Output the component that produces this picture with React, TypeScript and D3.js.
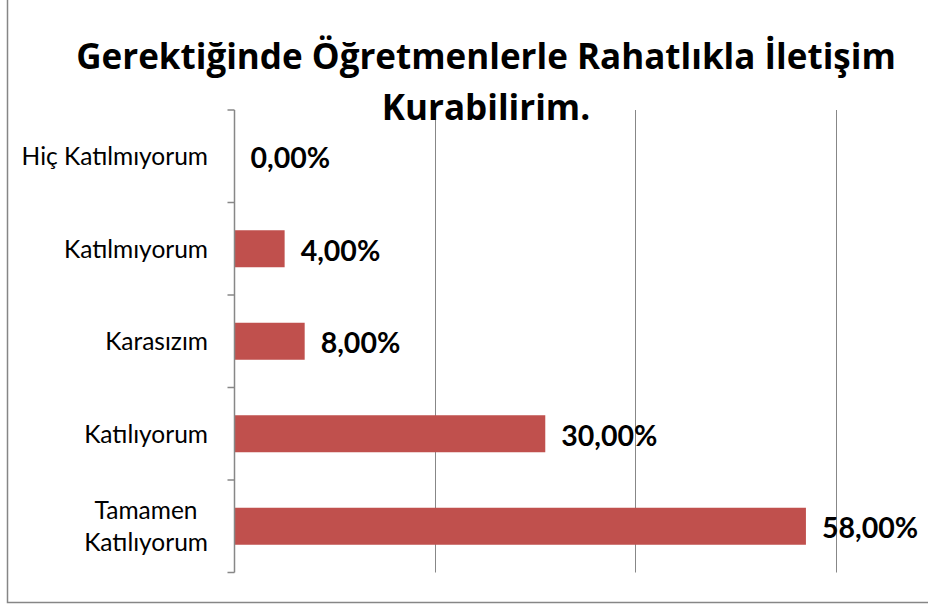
import React from "react";
import * as d3 from "d3";

const titleLines = ["Gerektiğinde Öğretmenlerle Rahatlıkla İletişim", "Kurabilirim."];
const categories = ["Hiç Katılmıyorum", "Katılmıyorum", "Karasızım", "Katılıyorum", "Tamamen Katılıyorum"];
const categoryLines = [["Hiç Katılmıyorum"], ["Katılmıyorum"], ["Karasızım"], ["Katılıyorum"], ["Tamamen", "Katılıyorum"]];
const barValues = [0, 5, 7, 31, 57];
const valueLabels = ["0,00%", "4,00%", "8,00%", "30,00%", "58,00%"];
const gridTicks = [0, 20, 40, 60];

const W = 928;
const H = 604;
const FONT = "Lato, 'Open Sans', sans-serif";
const TITLE_FONT = "'Open Sans', Lato, sans-serif";
const GRID = "#878787";
const BAR = "#C0504D";

function measure(text: string, font: string): number {
  const c = document.createElement("canvas");
  const ctx = c.getContext("2d");
  if (!ctx) return text.length * 10;
  ctx.font = font;
  return ctx.measureText(text).width;
}

export default function App() {
  const x = d3.scaleLinear().domain([0, 60]).range([234.5, 836]);
  const y = d3.scaleBand<string>().domain(categories).range([110, 572.5]).paddingInner(0.6).paddingOuter(0.3);
  const step = y.step();
  const top = 110;
  const bottom = 572.5;
  const labelRight = 208;
  const catSize = 24.5;
  const lineH = 32.5;
  const boundaries = d3.range(categories.length + 1).map((i) => top + i * step);

  return (
    <svg width={W} height={H} style={{ position: "absolute", left: 0, top: 0, background: "#fff" }}>
      <rect x={0} y={0} width={W} height={H} fill="#fff" />
      <rect x={7.5} y={-10} width={W + 20} height={612.5} fill="none" stroke="#868686" strokeWidth={1.5} />
      {gridTicks.slice(1).map((t) => (
        <line key={t} x1={Math.round(x(t)) + 0.5} x2={Math.round(x(t)) + 0.5} y1={top} y2={bottom} stroke={GRID} strokeWidth={1} />
      ))}
      {categories.map((c, i) => {
        const y0 = y(c) as number;
        return (
          <rect key={c} x={x(0)} y={y0} width={Math.max(0, x(barValues[i]) - x(0))} height={y.bandwidth()} fill={BAR} />
        );
      })}
      <line x1={x(0)} x2={x(0)} y1={top} y2={bottom} stroke={GRID} strokeWidth={1.5} />
      {boundaries.map((b, i) => (
        <line key={i} x1={x(0) - 7} x2={x(0)} y1={b} y2={b} stroke={GRID} strokeWidth={1.5} />
      ))}
      {categories.map((c, i) => {
        const cy = (y(c) as number) + y.bandwidth() / 2;
        const lines = categoryLines[i];
        const font = `${catSize}px Lato`;
        const blockW = Math.max(...lines.map((l) => measure(l, font)));
        const cx = lines.length > 1 ? labelRight - blockW / 2 : labelRight;
        return (
          <text key={c} fontFamily={FONT} fontSize={catSize} fill="#000" textAnchor={lines.length > 1 ? "middle" : "end"}>
            {lines.map((l, j) => (
              <tspan key={j} x={cx} y={cy + (j - (lines.length - 1) / 2) * lineH} dy="0.36em">
                {l}
              </tspan>
            ))}
          </text>
        );
      })}
      {categories.map((c, i) => {
        const cy = (y(c) as number) + y.bandwidth() / 2;
        return (
          <text key={c} x={x(barValues[i]) + 16} y={cy} dy="0.42em" fontFamily={FONT} fontSize={28.5} fontWeight="bold" fill="#000">
            {valueLabels[i]}
          </text>
        );
      })}
      {titleLines.map((t, i) => (
        <text key={i} x={486} y={68.5 + i * 51.5} textAnchor="middle" fontFamily={TITLE_FONT} fontSize={35} fontWeight="bold" fill="#000">
          {t}
        </text>
      ))}
    </svg>
  );
}
